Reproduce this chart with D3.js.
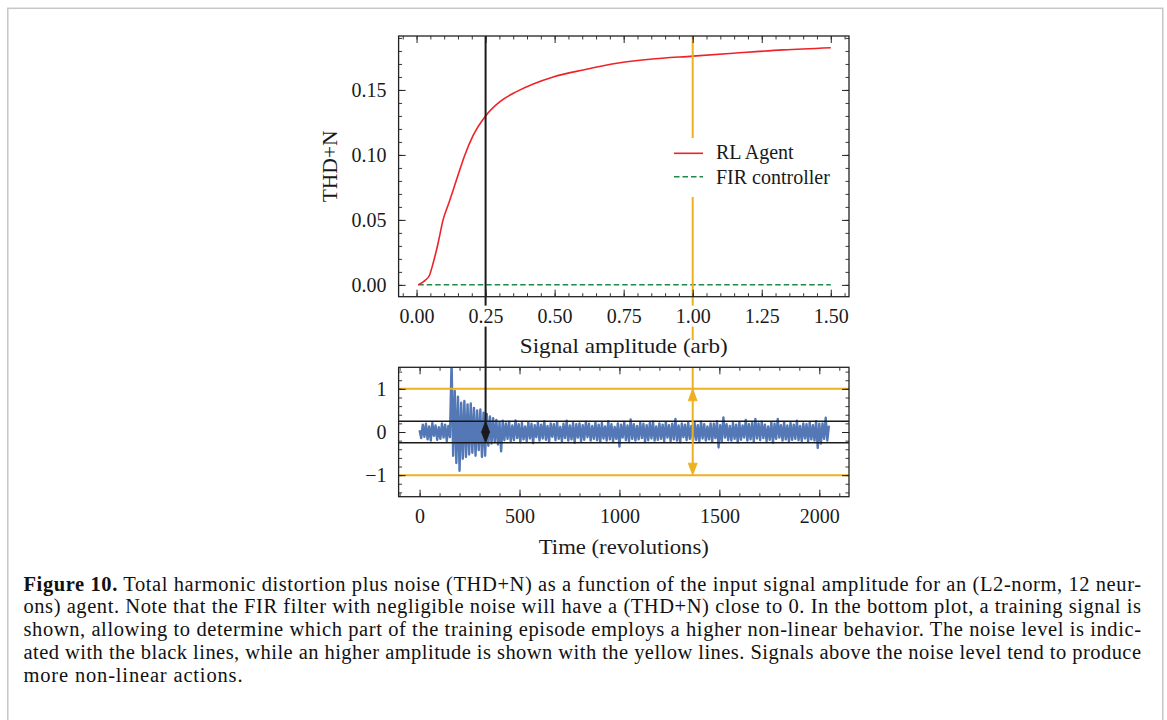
<!DOCTYPE html>
<html><head><meta charset="utf-8">
<script src="https://cdn.jsdelivr.net/npm/d3@7"></script>
<style>body{margin:0;background:#fff} svg{display:block} text{font-family:"Liberation Serif","Times New Roman",serif}</style>
</head><body><script>
// ---------------- data ----------------
const ampX   = [0.006,0.03,0.046,0.06,0.078,0.096,0.117,0.145,0.175,0.205,0.25,0.302,0.362,0.4225,0.495,0.604,0.725,0.845,1.0,1.147,1.328,1.5];
const rlTHD  = [0,0.0033,0.007,0.0167,0.032,0.05,0.063,0.081,0.1,0.115,0.13,0.141,0.1487,0.1546,0.16,0.1654,0.1705,0.1736,0.176,0.1782,0.1808,0.1825];
const firTHD = [0,0,0,0,0,0,0,0,0,0,0,0,0,0,0,0,0,0,0,0,0,0];
const seriesNames = ["RL Agent","FIR controller"];
const topXTicks = [0,0.25,0.5,0.75,1.0,1.25,1.5];
const topXLabels = ["0.00","0.25","0.50","0.75","1.00","1.25","1.50"];
const topYTicks = [0,0.05,0.10,0.15];
const topYLabels = ["0.00","0.05","0.10","0.15"];
const noiseLevel = 0.25, highLevel = 1.0;     // black / yellow reference levels
const markAmp = 0.25, markAmpHigh = 1.0;      // amplitudes marked on top plot
const samplePeriod = 8;                       // revolutions between stored samples
const signal = [
 0.04,-0.14,0.17,-0.11,0.19,-0.17,0.13,-0.2,0.21,-0.09,0.15,-0.18,0.11,-0.16,0.2,-0.13,0.17,-0.21,0.14,-0.12,
 1.62,-0.55,0.95,-0.72,0.82,-0.9,0.68,-0.62,0.72,-0.58,0.64,-0.52,0.66,-0.48,0.56,-0.55,0.5,-0.42,0.52,-0.58,0.45,-0.55,0.42,-0.32,0.36,-0.27,0.32,-0.24,0.28,-0.29,0.22,-0.45,0.26,-0.19,
 0.2,-0.16,0.24,-0.22,0.15,-0.19,0.27,-0.14,0.18,-0.24,0.21,-0.17,0.13,-0.21,0.23,-0.15,0.19,-0.26,0.16,-0.12,
 0.22,-0.2,0.17,-0.15,0.25,-0.18,0.14,-0.23,0.2,-0.11,0.18,-0.19,0.23,-0.16,0.12,-0.22,0.19,-0.14,0.26,-0.2,
 0.15,-0.17,0.21,-0.25,0.18,-0.13,0.2,-0.21,0.16,-0.18,0.24,-0.12,0.19,-0.2,0.14,-0.16,0.22,-0.19,0.17,-0.23,
 0.21,-0.15,0.13,-0.2,0.25,-0.17,0.18,-0.22,0.12,-0.16,0.2,-0.34,0.17,-0.13,0.23,-0.19,0.15,-0.21,0.29,-0.16,
 0.18,-0.2,0.14,-0.17,0.22,-0.14,0.19,-0.23,0.16,-0.19,0.21,-0.15,0.24,-0.2,0.13,-0.18,0.2,-0.16,0.17,-0.22,
 0.23,-0.13,0.16,-0.21,0.19,-0.17,0.3,-0.2,0.15,-0.24,0.2,-0.12,0.17,-0.19,0.22,-0.16,0.14,-0.2,0.21,-0.18,
 0.16,-0.22,0.24,-0.15,0.18,-0.2,0.13,-0.17,0.2,-0.23,0.19,-0.14,0.25,-0.36,0.16,-0.21,0.34,-0.13,0.18,-0.19,
 0.14,-0.2,0.21,-0.16,0.17,-0.24,0.23,-0.18,0.15,-0.13,0.28,-0.2,0.18,-0.17,0.21,-0.22,0.3,-0.15,0.2,-0.19,
 0.24,-0.14,0.17,-0.21,0.13,-0.18,0.22,-0.25,0.19,-0.16,0.3,-0.13,0.16,-0.2,0.23,-0.17,0.15,-0.22,0.21,-0.18,
 0.17,-0.16,0.26,-0.19,0.14,-0.21,0.2,-0.15,0.18,-0.23,0.22,-0.17,0.16,-0.2,0.25,-0.37,0.19,-0.27,0.2,-0.16,
 0.33,-0.2,0.15
];
const botXTicks = [0,500,1000,1500,2000];
const botXLabels = ["0","500","1000","1500","2000"];
const botYTicks = [-1,0,1];
const botYLabels = ["\u22121","0","1"];
const captionLines = [
 ["Figure 10.", " Total harmonic distortion plus noise (THD+N) as a function of the input signal amplitude for an (L2-norm, 12 neur-"],
 ["", "ons) agent. Note that the FIR filter with negligible noise will have a (THD+N) close to 0. In the bottom plot, a training signal is"],
 ["", "shown, allowing to determine which part of the training episode employs a higher non-linear behavior. The noise level is indic-"],
 ["", "ated with the black lines, while an higher amplitude is shown with the yellow lines. Signals above the noise level tend to produce"],
 ["", "more non-linear actions."]
];

// ---------------- setup ----------------
const W = 1167, H = 720;
const RED = "#ee2328", GREEN = "#1f8a47", YEL = "#edb120", BLUE = "#5378b5", INK = "#1a1a1a";
const svg = d3.select("body").append("svg").attr("width", W).attr("height", H);
svg.append("rect").attr("x", 7.8).attr("y", 8.3).attr("width", 1155).attr("height", 760)
  .attr("fill", "none").attr("stroke", "#c6c6c6").attr("stroke-width", 1.5);

const xA = d3.scaleLinear().domain([-0.065, 1.566]).range([398.6, 849]);
const yA = d3.scaleLinear().domain([-0.0091, 0.1915]).range([296.7, 36]);
const xB = d3.scaleLinear().domain([-105, 2148.5]).range([398.6, 849]);
const yB = d3.scaleLinear().domain([-1.5, 1.5]).range([496.7, 367.3]);

// ---------------- top plot content ----------------
const line = d3.line().curve(d3.curveMonotoneX);
const gTop = svg.append("g");
gTop.append("path").attr("d", line.x((d, i) => xA(ampX[i])).y(d => yA(d))(firTHD))
  .attr("fill", "none").attr("stroke", GREEN).attr("stroke-width", 1.5).attr("stroke-dasharray", "5.5,3");
gTop.append("path").attr("d", line.x((d, i) => xA(ampX[i])).y(d => yA(d))(rlTHD))
  .attr("fill", "none").attr("stroke", RED).attr("stroke-width", 1.6);

// ---------------- bottom plot content ----------------
svg.append("clipPath").attr("id", "clipB").append("rect")
  .attr("x", xB.range()[0]).attr("y", yB.range()[1])
  .attr("width", xB.range()[1] - xB.range()[0]).attr("height", yB.range()[0] - yB.range()[1]);
const gBot = svg.append("g").attr("clip-path", "url(#clipB)");
gBot.append("path")
  .attr("d", d3.line().x((d, i) => xB(i * samplePeriod)).y(d => yB(d))(signal))
  .attr("fill", "none").attr("stroke", BLUE).attr("stroke-width", 2.4).attr("stroke-linejoin", "round");
[highLevel, -highLevel].forEach(v => gBot.append("line")
  .attr("x1", xB.range()[0]).attr("x2", xB.range()[1]).attr("y1", yB(v)).attr("y2", yB(v))
  .attr("stroke", YEL).attr("stroke-width", 2));
[noiseLevel, -noiseLevel].forEach(v => gBot.append("line")
  .attr("x1", xB.range()[0]).attr("x2", xB.range()[1]).attr("y1", yB(v)).attr("y2", yB(v))
  .attr("stroke", INK).attr("stroke-width", 1.5));

// ---------------- connecting vertical markers ----------------
const xk = xA(markAmp), xy = xA(markAmpHigh);
svg.append("line").attr("x1", xk).attr("x2", xk).attr("y1", yA.range()[1]).attr("y2", yB(0))
  .attr("stroke", INK).attr("stroke-width", 2);
svg.append("line").attr("x1", xy).attr("x2", xy).attr("y1", yA.range()[1]).attr("y2", 340)
  .attr("stroke", YEL).attr("stroke-width", 2);
svg.append("line").attr("x1", xy).attr("x2", xy).attr("y1", yB.range()[1]).attr("y2", yB(-highLevel) - 6)
  .attr("stroke", YEL).attr("stroke-width", 2);
function head(x, tipY, dir, len, w, col) { // dir -1 up, +1 down
  svg.append("path").attr("d", `M${x},${tipY} L${x - w / 2},${tipY - dir * len} L${x + w / 2},${tipY - dir * len} Z`)
    .attr("fill", col).attr("stroke", col).attr("stroke-width", 0.8);
}
head(xk, yB(noiseLevel), -1, (yB(-noiseLevel) - yB(noiseLevel)) / 2, 8, INK);
head(xk, yB(-noiseLevel), 1, (yB(-noiseLevel) - yB(noiseLevel)) / 2, 8, INK);
head(xy, yB(highLevel), -1, 12, 9, YEL);
head(xy, yB(-highLevel), 1, 12, 9, YEL);

// ---------------- legend ----------------
const lg = svg.append("g");
lg.append("rect").attr("x", 664).attr("y", 138).attr("width", 178).attr("height", 59).attr("fill", "#fff");
[[RED, null, 153.3, 159.3], [GREEN, "5.5,3", 176.7, 184]].forEach(([c, da, ly, ty], i) => {
  lg.append("line").attr("x1", 674).attr("x2", 703).attr("y1", ly).attr("y2", ly)
    .attr("stroke", c).attr("stroke-width", 1.6).attr("stroke-dasharray", da);
  lg.append("text").attr("x", 716).attr("y", ty).attr("font-size", 20).attr("fill", INK).text(seriesNames[i]);
});

// ---------------- axes ----------------
function axesFrame(xs, ys, xMaj, xMin, yMaj, yMin, xLab, yLab, labelBg) {
  const [x0, x1] = xs.range(), [y0, y1] = ys.range();
  const specs = [
    [d3.axisBottom, xs, `translate(0,${y0})`, xMaj, xMin, xLab, 11.7],
    [d3.axisTop, xs, `translate(0,${y1})`, xMaj, xMin, null, 0],
    [d3.axisLeft, ys, `translate(${x0},0)`, yMaj, yMin, yLab, 12],
    [d3.axisRight, ys, `translate(${x1},0)`, yMaj, yMin, null, 0]];
  specs.forEach(([ax, sc, tr, maj, min, labs, pad], k) => {
    const gm = svg.append("g").attr("transform", tr)
      .call(ax(sc).tickValues(min).tickSize(-3.5).tickSizeOuter(0).tickFormat(""));
    gm.select(".domain").remove();
    gm.selectAll("line").attr("stroke", "#222").attr("stroke-width", 0.9);
    const gM = svg.append("g").attr("transform", tr)
      .call(ax(sc).tickValues(maj).tickSize(-7).tickSizeOuter(0).tickPadding(pad)
        .tickFormat(labs ? (d, i) => labs[i] : ""));
    gM.select(".domain").remove();
    gM.selectAll("line").attr("stroke", "#222").attr("stroke-width", 1);
    gM.attr("font-size", 20).attr("font-family", null);
    gM.selectAll("text").attr("fill", INK);
    if (labs && labelBg && k === 0) {
      gM.selectAll(".tick").each(function () {
        const t = d3.select(this).select("text"); const b = t.node().getBBox();
        d3.select(this).insert("rect", "text").attr("x", b.x - 2).attr("y", b.y + 1)
          .attr("width", b.width + 4).attr("height", b.height - 1).attr("fill", "#fff");
      });
    }
  });
  svg.append("rect").attr("x", x0).attr("y", y1).attr("width", x1 - x0).attr("height", y0 - y1)
    .attr("fill", "none").attr("stroke", "#222").attr("stroke-width", 1.3);
}
const topXMinor = d3.range(-0.05, 1.56, 0.05);
const topYMinor = d3.range(0, 0.192, 0.01);
axesFrame(xA, yA, topXTicks, topXMinor, topYTicks, topYMinor, topXLabels, topYLabels, true);
const botXMinor = d3.range(-100, 2101, 100);
const botYMinor = d3.range(-1.4, 1.45, 0.2);
axesFrame(xB, yB, botXTicks, botXMinor, botYTicks, botYMinor, botXLabels, botYLabels, false);

// axis titles
const midA = (xA.range()[0] + xA.range()[1]) / 2;
svg.append("text").attr("x", midA).attr("y", 353.3).attr("text-anchor", "middle")
  .attr("font-size", 21).attr("fill", INK).attr("textLength", 208).attr("lengthAdjust", "spacingAndGlyphs")
  .text("Signal amplitude (arb)");
svg.append("text").attr("x", midA).attr("y", 554).attr("text-anchor", "middle")
  .attr("font-size", 21).attr("fill", INK).attr("textLength", 170).attr("lengthAdjust", "spacingAndGlyphs")
  .text("Time (revolutions)");
svg.append("text").attr("transform", `translate(336.7,${(yA.range()[0] + yA.range()[1]) / 2}) rotate(-90)`)
  .attr("text-anchor", "middle").attr("font-size", 21).attr("fill", INK)
  .attr("textLength", 72).attr("lengthAdjust", "spacingAndGlyphs").text("THD+N");

// ---------------- caption ----------------
const capBase = [590.6, 613.4, 636.3, 659.3, 682.1];
captionLines.forEach(([b, rest], i) => {
  const t = svg.append("text").attr("x", 23.5).attr("y", capBase[i]).attr("font-size", 20.5).attr("fill", "#111");
  if (b) t.append("tspan").attr("font-weight", "bold").text(b);
  t.append("tspan").text(rest);
  if (i < 4) t.attr("textLength", 1117.5).attr("lengthAdjust", "spacing");
  else t.attr("textLength", 219).attr("lengthAdjust", "spacing");
});
</script></body></html>
